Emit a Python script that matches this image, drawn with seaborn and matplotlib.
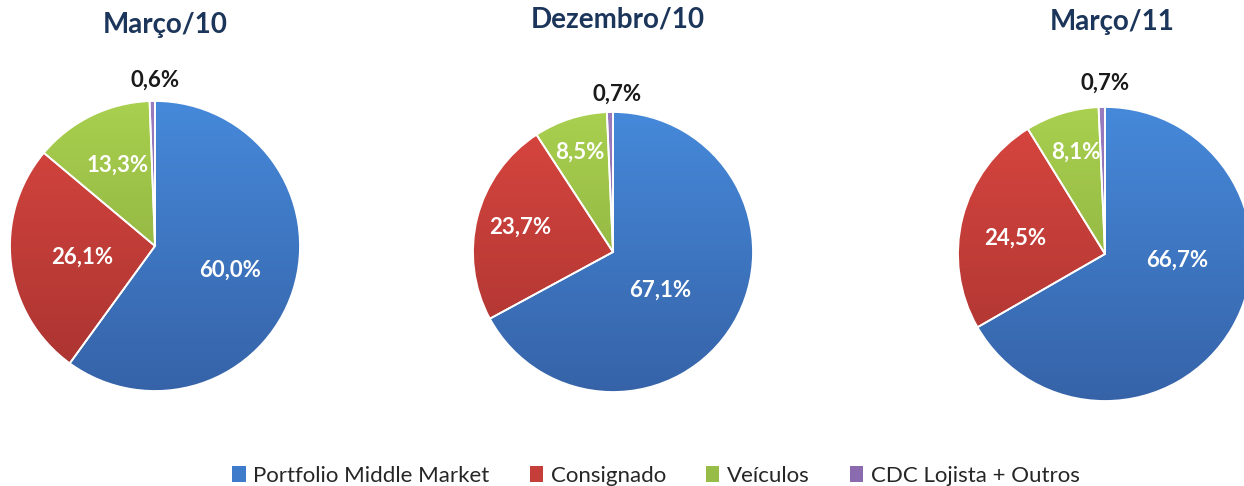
import matplotlib.pyplot as plt
import seaborn as sns
import numpy as np
from matplotlib.colors import LinearSegmentedColormap
from matplotlib.patches import Patch

# Data
categories = ["Portfolio Middle Market", "Consignado", "Veículos", "CDC Lojista + Outros"]
periods = ["Março/10", "Dezembro/10", "Março/11"]
marco_10 = [60.0, 26.1, 13.3, 0.6]
dezembro_10 = [67.1, 23.7, 8.5, 0.7]
marco_11 = [66.7, 24.5, 8.1, 0.7]
series = [marco_10, dezembro_10, marco_11]

colors = ["#3F7BCB", "#C63E3A", "#97BD48", "#8A6BB0"]
# light (top) / dark (bottom) shades for the office-style gradient
top_colors = ["#4689DA", "#D9463F", "#A9D04F", "#9A7CC0"]
bottom_colors = ["#3663A8", "#A83331", "#83A43A", "#76599E"]
label_colors = ["white", "white", "white", "#1a1a1a"]

# layout (pixels, y up) for each pie: centre, radius, title position
pie_centers = [(155, 240), (613, 234), (1105, 232)]
pie_radius = [145, 140, 147]
title_pos = [(165, 461), (618, 466), (1112, 464)]
# label offsets in radius units, as the original placed them
label_offsets = [
    [(0.52, -0.17), (-0.50, -0.08), (-0.26, 0.56), (0.0, 1.14)],
    [(0.34, -0.27), (-0.66, 0.18), (-0.24, 0.71), (0.03, 1.13)],
    [(0.49, -0.04), (-0.61, 0.11), (-0.20, 0.69), (0.0, 1.16)],
]

sns.set_theme(style="white")
plt.rcParams['font.family'] = ['Lato', 'DejaVu Sans']

fig = plt.figure(figsize=(12.44, 4.86), dpi=100)
ax = fig.add_axes([0, 0, 1, 1])

grad = np.linspace(0, 1, 256).reshape(-1, 1)
cmaps = [LinearSegmentedColormap.from_list(f"g{k}", [bottom_colors[k], top_colors[k]])
         for k in range(len(categories))]

for i, vals in enumerate(series):
    cx, cy = pie_centers[i]
    r = pie_radius[i]
    wedges, _ = ax.pie(vals, center=(cx, cy), radius=r, startangle=90, counterclock=False,
                       colors=colors, wedgeprops=dict(edgecolor="white", linewidth=1.3))
    for k, w in enumerate(wedges):
        im = ax.imshow(grad, cmap=cmaps[k], origin="lower", aspect="auto",
                       extent=(cx - r, cx + r, cy - r, cy + r), zorder=0.5)
        im.set_clip_path(w)
        w.set_facecolor("none")
    for j, v in enumerate(vals):
        dx, dy = label_offsets[i][j]
        txt = f"{v:.1f}".replace(".", ",") + "%"
        ax.text(cx + dx * r, cy + dy * r, txt, ha="center", va="center",
                fontsize=16, fontweight="bold", color=label_colors[j], zorder=3)
    tx, ty = title_pos[i]
    ax.text(tx, ty, periods[i], ha="center", va="center", fontsize=20,
            fontweight="bold", color="#1C355A")

ax.set_xlim(0, 1244)
ax.set_ylim(0, 486)
ax.set_aspect("auto")
ax.axis("off")

handles = [Patch(facecolor=c, edgecolor="none") for c in colors]
fig.legend(handles, categories, loc="center", bbox_to_anchor=(656 / 1244, 10 / 486),
           ncol=4, frameon=False, fontsize=16, handlelength=0.6, handleheight=0.7,
           handletextpad=0.35, columnspacing=1.8)

fig.savefig("out.png", dpi=100)
